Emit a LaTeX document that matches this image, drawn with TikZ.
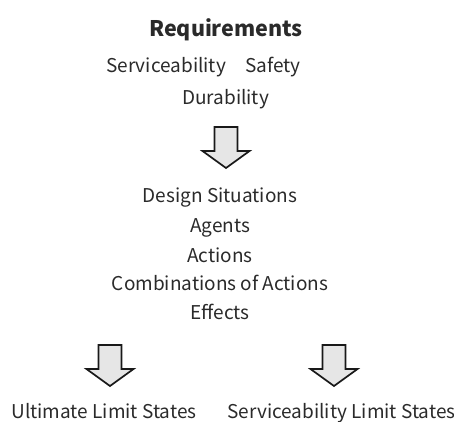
\documentclass[tikz,border=0pt]{standalone}
\usepackage{fontspec}
\setmainfont{Noto Sans CJK JP}
\definecolor{txtc}{HTML}{2A2A2A}
\definecolor{arrfill}{HTML}{E6E6E6}
\begin{document}
\begin{tikzpicture}[x=1pt,y=-1pt,
  txt/.style={font=\fontsize{19}{23}\selectfont, text=txtc, inner sep=0pt, anchor=base},
  blockarrow/.style={draw=black!90, fill=arrfill, line width=1.7pt, line join=miter}]
\useasboundingbox (0,0) rectangle (454,421);
% top block
\node[txt, font=\fontsize{21.5}{25}\selectfont\bfseries] (req) at (226,36) {Requirements};
\node[txt, anchor=base west] (serv) at (106,72) {Serviceability};
\node[txt, anchor=base west] (safe) at (245,72) {Safety};
\node[txt] (dur) at (225.5,104) {Durability};
% middle block
\node[txt] (design) at (220,202) {Design Situations};
\node[txt] (agents) at (220,232) {Agents};
\node[txt] (actions) at (220,262) {Actions};
\node[txt] (comb) at (220,290) {Combinations of Actions};
\node[txt] (effects) at (220,319) {Effects};
% bottom
\node[txt] (uls) at (104,418) {Ultimate Limit States};
\node[txt] (sls) at (341.5,418) {Serviceability Limit States};
% arrows
\coordinate (a1) at (226,127);
\coordinate (a2) at (110,345);
\coordinate (a3) at (334,345);
\foreach \a in {a1,a2,a3}{
  \draw[blockarrow, shift={(\a)}] (-11.5,0) -- (11.5,0) -- (11.5,24) -- (23.5,24) -- (0,41) -- (-23.5,24) -- (-11.5,24) -- cycle;
}
\end{tikzpicture}
\end{document}
